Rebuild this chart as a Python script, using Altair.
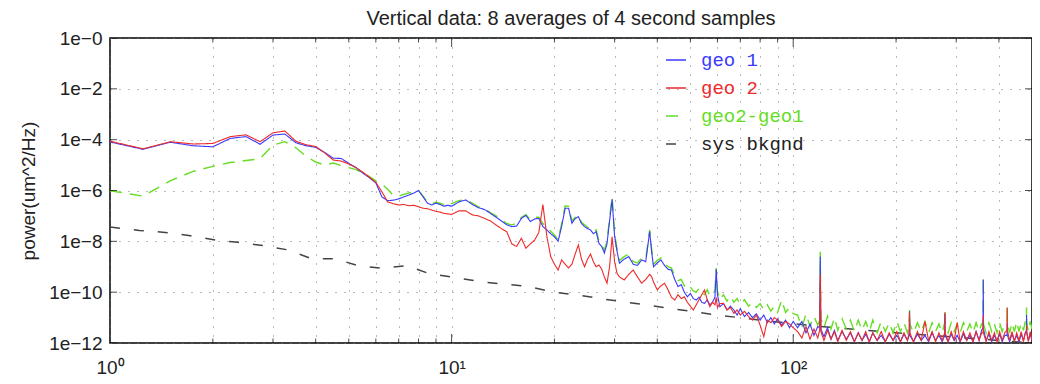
import altair as alt
import pandas as pd

TITLE = "Vertical data: 8 averages of 4 second samples"
Y_TITLE = "power(um^2/Hz)"
SERIES = ["geo 1", "geo 2", "geo2-geo1", "sys bkgnd"]
COLORS = ["#3a3aff", "#ee2a2a", "#66dd22", "#444444"]
DASHES = [[1, 0], [1, 0], [12, 8], [10, 14]]

X_DOMAIN = [1, 500]
Y_DOMAIN = [1e-12, 1]
X_GRID = [1, 2, 3, 4, 5, 6, 7, 8, 9, 10, 20, 30, 40, 50, 60, 70, 80, 90,
          100, 200, 300, 400, 500]
X_MINOR_TICKS = [2, 3, 4, 5, 6, 7, 8, 9, 20, 30, 40, 50, 60, 70, 80, 90,
                 200, 300, 400]
X_MAJOR_TICKS = [10, 100]
Y_TICKS = [1, 1e-2, 1e-4, 1e-6, 1e-8, 1e-10, 1e-12]

# ---- frequencies (Hz) ----
freq_low = [1.00, 1.25, 1.50, 1.75, 2.00, 2.25, 2.50, 2.75, 3.00, 3.25,
            3.50, 3.75, 4.00, 4.25, 4.50, 4.75, 5.00, 5.25, 5.50, 5.75,
            6.00, 6.25, 6.50, 6.75, 7.00, 7.25, 7.50, 7.75, 8.00, 8.25,
            8.50, 8.75, 9.00, 9.25, 9.50, 9.75, 10.00]
freq_mid = [10.5, 11, 11.5, 12, 12.5, 13, 13.5, 14, 14.5, 15,
            15.5, 16, 16.5, 17, 17.5, 18, 18.5, 19, 19.5, 20,
            20.5, 21, 21.5, 22, 22.5, 23, 23.5, 24, 24.5, 25,
            25.5, 26, 26.5, 27, 27.5, 28, 28.5, 29, 29.5, 30,
            30.5, 31, 32, 33, 34, 35, 36, 37, 38, 38.5,
            39, 40, 41, 42, 43, 44, 45, 46, 47, 48,
            49, 50, 51, 52, 53, 54, 55, 56, 57, 58,
            59, 59.5, 60, 61, 62.5, 64, 65.5, 67, 68.5, 70,
            72, 74, 76, 78, 80, 82, 84, 86, 88, 90,
            92.5, 95, 97.5, 100]
freq_high = [103, 106, 109, 112, 115, 118, 119.5, 120, 120.5, 123,
             126, 129, 132, 135, 139, 143, 147, 151, 155, 159,
             163, 167, 171, 176, 181, 186, 191, 196, 201, 206,
             211, 216, 218.5, 219, 219.5, 225, 231, 237, 243, 249,
             255, 261, 267, 273, 277.5, 278, 278.5, 284, 290, 296,
             302, 308, 315, 322, 329, 336, 343, 350, 356, 359.5,
             360, 360.5, 367, 374, 381, 388, 395, 402, 409, 416,
             422.5, 423, 423.5, 430, 437, 444, 451, 458, 465, 472,
             478, 481.5, 482, 482.5, 488, 494, 500]

# ---- log10 of power ----
geo1_low = [-4.09, -4.38, -4.10, -4.24, -4.28, -3.95, -3.88, -4.18, -3.82, -3.78,
            -4.12, -4.24, -4.30, -4.50, -4.73, -4.74, -4.93, -5.10, -5.32, -5.50,
            -5.70, -6.25, -6.40, -6.38, -6.33, -6.25, -6.18, -6.10, -6.00, -6.25,
            -6.50, -6.57, -6.50, -6.55, -6.62, -6.58, -6.62]
geo1_mid = [-6.45, -6.37, -6.55, -6.68, -6.75, -6.90, -7.05, -7.20, -7.35, -7.42,
            -7.40, -7.10, -6.98, -7.22, -7.12, -7.10, -7.42, -7.55, -7.70, -7.82,
            -8.00, -7.40, -6.70, -6.70, -7.29, -7.10, -7.03, -7.30, -7.42, -7.50,
            -7.55, -7.70, -7.62, -8.08, -8.20, -8.46, -8.10, -7.20, -6.35, -7.80,
            -8.40, -8.86, -8.70, -8.60, -8.90, -8.95, -8.73, -8.80, -7.62, -8.40,
            -9.00, -8.85, -8.73, -8.95, -9.10, -9.13, -9.50, -9.78, -9.70, -10.00,
            -10.18, -10.05, -10.25, -10.31, -10.20, -10.40, -10.44, -10.30, -10.50, -10.40,
            -10.20, -9.10, -10.10, -10.57, -10.45, -10.70, -10.55, -10.70, -10.90, -10.65,
            -10.96, -10.80, -11.00, -10.85, -11.10, -10.90, -11.20, -11.00, -11.25, -11.05,
            -11.30, -11.10, -11.40, -11.15]
geo1_high = [-11.40, -11.15, -11.60, -11.25, -11.70, -11.35, -11.40, -8.60, -11.45, -11.75,
             -11.40, -11.85, -11.50, -11.90, -11.55, -11.85, -11.60, -11.95, -11.60, -11.90,
             -11.65, -11.95, -11.60, -11.90, -11.70, -11.95, -11.65, -11.90, -11.70, -11.95,
             -11.65, -11.90, -11.70, -10.75, -11.70, -11.95, -11.65, -11.90, -11.70, -11.95,
             -11.60, -11.90, -11.70, -11.95, -11.70, -10.85, -11.70, -11.95, -11.65, -11.90,
             -11.70, -11.95, -11.65, -11.90, -11.70, -11.95, -11.55, -11.90, -11.50, -11.40,
             -9.50, -11.45, -11.90, -11.65, -11.95, -11.70, -11.90, -11.65, -11.95, -11.70,
             -11.70, -11.20, -11.70, -11.95, -11.65, -11.90, -11.70, -11.95, -11.65, -11.90,
             -11.60, -11.50, -10.90, -11.55, -11.90, -11.65, -11.90]

geo2_low = [-4.06, -4.36, -4.08, -4.17, -4.15, -3.88, -3.81, -4.08, -3.73, -3.66,
            -4.06, -4.20, -4.27, -4.52, -4.80, -4.84, -4.96, -5.10, -5.28, -5.48,
            -5.68, -6.05, -6.45, -6.52, -6.57, -6.55, -6.60, -6.58, -6.64, -6.70,
            -6.72, -6.77, -6.82, -6.85, -6.90, -6.92, -6.94]
geo2_mid = [-6.80, -6.80, -6.96, -7.00, -7.10, -7.20, -7.36, -7.50, -7.62, -8.10,
            -8.20, -7.88, -8.27, -8.10, -7.95, -7.65, -6.55, -7.80, -8.60, -8.90,
            -9.13, -8.73, -8.90, -9.05, -8.90, -8.50, -8.14, -8.70, -9.00, -8.70,
            -8.50, -8.80, -9.00, -8.93, -9.10, -9.40, -9.65, -9.00, -7.82, -8.80,
            -9.26, -9.40, -9.52, -9.30, -9.13, -9.40, -9.65, -9.50, -9.30, -9.39,
            -9.60, -9.91, -9.75, -9.65, -9.90, -10.20, -10.31, -10.10, -10.25, -10.18,
            -10.40, -10.55, -10.70, -10.50, -10.30, -10.10, -9.91, -10.30, -10.57, -10.40,
            -10.50, -10.20, -10.60, -10.45, -10.44, -10.70, -10.60, -10.83, -10.70, -10.90,
            -10.75, -10.96, -11.10, -10.90, -11.30, -11.75, -11.10, -11.20, -11.00, -11.10,
            -11.35, -11.15, -11.25, -11.40]
geo2_high = [-11.55, -11.80, -11.35, -11.85, -11.45, -11.80, -11.50, -9.30, -11.55, -11.90,
             -11.50, -11.85, -11.55, -11.95, -11.50, -11.90, -11.55, -11.95, -11.60, -11.90,
             -11.55, -11.95, -11.60, -11.90, -11.55, -11.95, -11.60, -11.90, -11.55, -11.95,
             -11.60, -11.90, -11.60, -10.80, -11.60, -11.95, -11.55, -11.90, -11.15, -11.90,
             -11.55, -11.95, -11.60, -11.90, -11.60, -10.80, -11.60, -11.95, -11.55, -11.90,
             -11.20, -11.95, -11.55, -11.90, -11.60, -11.95, -11.55, -11.90, -11.60, -11.60,
             -10.90, -11.60, -11.95, -11.55, -11.90, -11.60, -11.95, -11.55, -11.90, -11.60,
             -11.50, -10.60, -11.50, -11.90, -11.55, -11.95, -11.60, -11.90, -11.55, -11.95,
             -11.60, -11.60, -11.30, -11.60, -11.95, -11.55, -11.90]

diff_low = [-6.01, -6.22, -5.62, -5.25, -5.05, -4.90, -4.82, -4.75, -4.21, -4.08,
            -4.32, -4.65, -4.88, -5.00, -4.92, -5.02, -5.10, -5.18, -5.32, -5.45,
            -5.62, -5.75, -5.95, -6.20, -6.22, -6.15, -6.10, -6.05, -6.00, -6.22,
            -6.46, -6.52, -6.46, -6.50, -6.56, -6.45, -6.52]
diff_mid = [-6.40, -6.35, -6.50, -6.65, -6.72, -6.88, -7.00, -7.15, -7.30, -7.35,
            -7.30, -7.05, -6.95, -7.15, -7.05, -7.05, -7.30, -7.45, -7.60, -7.75,
            -7.95, -7.30, -6.60, -6.62, -7.20, -7.05, -6.98, -7.25, -7.35, -7.45,
            -7.50, -7.62, -7.55, -8.00, -8.10, -8.35, -8.00, -7.10, -6.25, -7.70,
            -8.30, -8.75, -8.60, -8.50, -8.80, -8.85, -8.65, -8.70, -7.55, -8.30,
            -8.90, -8.75, -8.65, -8.85, -9.00, -9.05, -9.35, -9.55, -9.50, -9.75,
            -9.90, -9.80, -9.95, -10.00, -9.85, -10.05, -10.10, -9.90, -10.15, -10.00,
            -9.95, -9.05, -9.95, -10.30, -10.10, -10.35, -10.15, -10.40, -10.25, -10.50,
            -10.30, -10.55, -10.40, -10.60, -10.45, -10.70, -10.50, -10.75, -10.55, -10.80,
            -10.30, -10.80, -10.60, -10.85]
diff_high = [-10.90, -11.40, -10.85, -11.35, -10.95, -11.30, -11.10, -8.41, -11.05, -11.40,
             -10.95, -11.45, -11.00, -11.50, -11.05, -11.45, -11.10, -11.55, -11.10, -11.50,
             -11.15, -11.55, -11.10, -11.60, -11.15, -11.55, -11.20, -11.60, -11.15, -11.55,
             -11.20, -11.60, -11.25, -10.70, -11.25, -11.60, -11.20, -11.55, -11.15, -11.60,
             -11.20, -11.55, -11.25, -11.60, -11.20, -10.75, -11.25, -11.60, -11.20, -11.55,
             -11.25, -11.60, -11.20, -11.55, -11.25, -11.60, -11.20, -11.55, -11.25, -11.30,
             -9.39, -11.25, -11.60, -11.20, -11.55, -11.25, -11.60, -11.20, -11.55, -11.25,
             -11.20, -10.50, -11.25, -11.60, -11.20, -11.55, -11.15, -11.55, -11.20, -11.50,
             -11.15, -11.20, -10.60, -11.20, -11.55, -11.15, -11.45]

bkgnd_freq = [1, 1.22, 1.45, 1.72, 2.03, 2.37, 2.81, 3.33, 3.9, 4.57,
              5.33, 6.27, 7.4, 8.56, 10.1, 12.2, 14.2, 16.8, 19.8, 23.4,
              27.8, 32.8, 38.4, 45.3, 60, 80, 120, 200, 320, 500]
bkgnd_log = [-7.44, -7.57, -7.65, -7.78, -7.95, -8.04, -8.17, -8.34, -8.69, -8.69,
             -8.96, -9.06, -8.96, -9.26, -9.41, -9.59, -9.68, -9.78, -10.00, -10.11,
             -10.27, -10.40, -10.53, -10.67, -10.90, -11.10, -11.35, -11.60, -11.80, -12.00]

FONT = "Liberation Sans"
TEXT = "#222222"


def frame(name, freqs, logs):
    return pd.DataFrame({"freq": freqs,
                         "power": [10.0 ** v for v in logs],
                         "series": name})


freq_all = freq_low + freq_mid + freq_high
df_geo1 = frame(SERIES[0], freq_all, geo1_low + geo1_mid + geo1_high)
df_geo2 = frame(SERIES[1], freq_all, geo2_low + geo2_mid + geo2_high)
df_diff = frame(SERIES[2], freq_all, diff_low + diff_mid + diff_high)
df_bkg = frame(SERIES[3], bkgnd_freq, bkgnd_log)

x_scale = alt.Scale(type="log", domain=X_DOMAIN, nice=False)
y_scale = alt.Scale(type="log", domain=Y_DOMAIN, nice=False)

x_axis = alt.Axis(
    values=X_GRID,
    labelExpr="datum.value == 1 ? '10⁰' : datum.value == 10 ? '10¹' : datum.value == 100 ? '10²' : ''",
    title=None, domain=False, ticks=False, grid=True,
    gridDash=[1, 8], gridColor="#777777", gridWidth=1,
    labelFont=FONT, labelFontSize=19, labelColor=TEXT, labelPadding=15,
    labelFlush=False, labelOverlap=False, labelBound=False,
)
y_axis = alt.Axis(
    values=Y_TICKS,
    labelExpr="'1e\u2212' + round(-log(datum.value) / LN10)",
    title=Y_TITLE, domain=False, ticks=False, grid=True,
    gridDash=[1, 8], gridColor="#777777", gridWidth=1,
    labelFont=FONT, labelFontSize=19, labelColor=TEXT, labelPadding=8,
    labelFlush=False, labelOverlap=False, labelBound=False,
    titleFont=FONT, titleFontSize=19, titleFontWeight="normal", titleColor=TEXT,
    titleX=-82, titleY=152.5, titleAngle=270, titleAlign="center",
    titleBaseline="middle",
)

legend = alt.Legend(
    title=None, orient="none", legendX=555, legendY=11, padding=0,
    symbolType="stroke", symbolSize=400, symbolStrokeWidth=1.5,
    labelFont="Liberation Mono", labelFontSize=19, labelOffset=14,
    rowPadding=7,
    labelColor=alt.ExprRef(
        "datum.value == 'geo 1' ? '#3a3aff' : datum.value == 'geo 2' ? '#ee2a2a' : "
        "datum.value == 'geo2-geo1' ? '#66dd22' : '#222222'"),
)

color = alt.Color("series:N", scale=alt.Scale(domain=SERIES, range=COLORS),
                  legend=legend)
dash = alt.StrokeDash("series:N", scale=alt.Scale(domain=SERIES, range=DASHES),
                      legend=legend)


def series_layer(df, width):
    return alt.Chart(df).mark_line(strokeWidth=width, clip=True).encode(
        x=alt.X("freq:Q", scale=x_scale, axis=x_axis),
        y=alt.Y("power:Q", scale=y_scale, axis=y_axis),
        color=color,
        strokeDash=dash,
    )


def tick_layer(df, orient, size):
    return alt.Chart(df).mark_tick(orient=orient, size=size, thickness=1,
                                   color="black", clip=True).encode(
        x=alt.X("freq:Q", scale=x_scale, axis=x_axis),
        y=alt.Y("power:Q", scale=y_scale, axis=y_axis),
    )


df_xminor = pd.DataFrame({
    "freq": X_MINOR_TICKS + X_MINOR_TICKS,
    "power": [Y_DOMAIN[0]] * len(X_MINOR_TICKS) + [Y_DOMAIN[1]] * len(X_MINOR_TICKS),
})
df_xmajor = pd.DataFrame({
    "freq": X_MAJOR_TICKS + X_MAJOR_TICKS,
    "power": [Y_DOMAIN[0]] * len(X_MAJOR_TICKS) + [Y_DOMAIN[1]] * len(X_MAJOR_TICKS),
})
df_yt = pd.DataFrame({
    "freq": [X_DOMAIN[0]] * len(Y_TICKS) + [X_DOMAIN[1]] * len(Y_TICKS),
    "power": Y_TICKS + Y_TICKS,
})

chart = alt.layer(
    series_layer(df_bkg, 1.5),
    series_layer(df_diff, 1.4),
    series_layer(df_geo1, 1.1),
    series_layer(df_geo2, 1.1),
    tick_layer(df_xminor, "vertical", 9),
    tick_layer(df_xmajor, "vertical", 18),
    tick_layer(df_yt, "horizontal", 14),
).properties(
    width=922,
    height=305,
    title=alt.TitleParams(TITLE, font=FONT, fontSize=20, fontWeight="normal",
                          color=TEXT, anchor="middle", frame="group",
                          baseline="alphabetic", offset=0, dy=16),
    padding={"left": 102, "top": 30, "right": 0, "bottom": 33},
    autosize=alt.AutoSizeParams(type="none"),
    background="white",
).configure_view(
    stroke="black", strokeWidth=1.5,
)

chart.save("out.html", embed_options={"renderer": "svg", "actions": False})
